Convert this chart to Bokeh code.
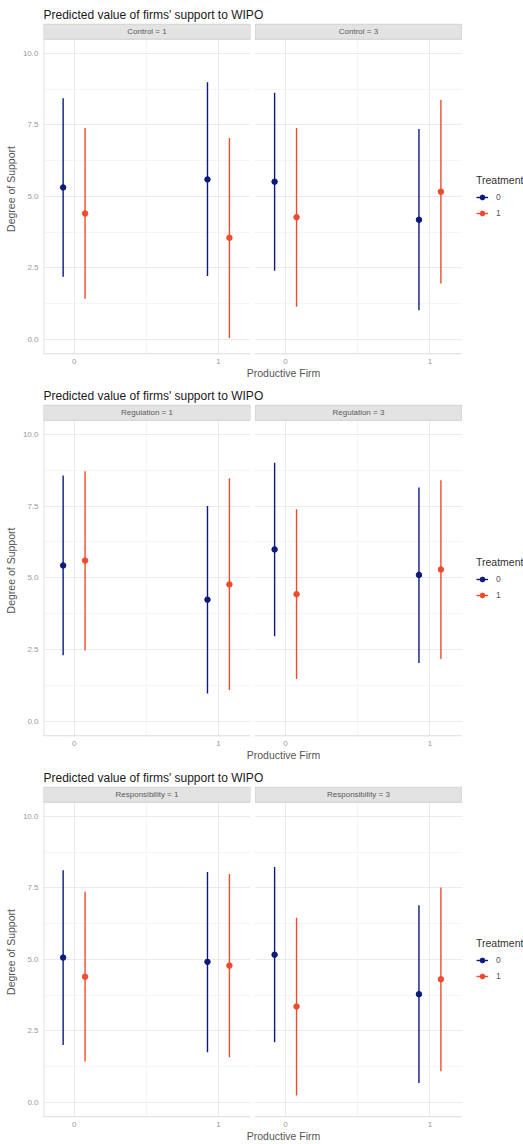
from bokeh.plotting import figure
from bokeh.layouts import column
from bokeh.models import (FixedTicker, PrintfTickFormatter, Legend, LegendItem, ColumnDataSource)
from bokeh.embed import file_html
from bokeh.resources import INLINE
from bokeh.core.properties import value

# ---------------- data ----------------
title_text = "Predicted value of firms' support to WIPO"
facet_vars = ["Control", "Regulation", "Responsibility"]
facet_levels = ["1", "3"]
productive = [0, 1]
treatments = ["0", "1"]

# estimates [facet level][productive] for treatment 0 and 1
control_t0 = [[5.31, 5.59], [5.51, 4.18]]
control_t0_lo = [[2.19, 2.21], [2.40, 1.02]]
control_t0_hi = [[8.43, 8.99], [8.62, 7.35]]
control_t1 = [[4.40, 3.55], [4.27, 5.16]]
control_t1_lo = [[1.42, 0.05], [1.14, 1.95]]
control_t1_hi = [[7.39, 7.04], [7.39, 8.37]]

regulation_t0 = [[5.43, 4.24], [5.99, 5.10]]
regulation_t0_lo = [[2.30, 0.97], [2.96, 2.03]]
regulation_t0_hi = [[8.57, 7.50], [9.01, 8.15]]
regulation_t1 = [[5.60, 4.77], [4.43, 5.29]]
regulation_t1_lo = [[2.47, 1.09], [1.47, 2.17]]
regulation_t1_hi = [[8.71, 8.47], [7.39, 8.40]]

responsibility_t0 = [[5.06, 4.91], [5.16, 3.78]]
responsibility_t0_lo = [[2.00, 1.75], [2.10, 0.68]]
responsibility_t0_hi = [[8.11, 8.05], [8.23, 6.89]]
responsibility_t1 = [[4.39, 4.78], [3.35, 4.30]]
responsibility_t1_lo = [[1.43, 1.58], [0.24, 1.09]]
responsibility_t1_hi = [[7.36, 7.98], [6.45, 7.51]]

y_ticks = [0, 2.5, 5, 7.5, 10]
y_minor = [1.25, 3.75, 6.25, 8.75]

all_data = {
    "Control": [(control_t0, control_t0_lo, control_t0_hi), (control_t1, control_t1_lo, control_t1_hi)],
    "Regulation": [(regulation_t0, regulation_t0_lo, regulation_t0_hi), (regulation_t1, regulation_t1_lo, regulation_t1_hi)],
    "Responsibility": [(responsibility_t0, responsibility_t0_lo, responsibility_t0_hi), (responsibility_t1, responsibility_t1_lo, responsibility_t1_hi)],
}

# ---------------- styling ----------------
FONT = "Liberation Sans"
COLORS = ["#0B1A7C", "#F04B2C"]
DODGE = 0.076
X0, X1 = -0.212, 1.222       # panel x extent
OFFSET = 1.465                # panel 2 offset
PX_PER_UNIT = 207 / (X1 - X0)
LEFT = 43
FRAME_W = 523 - LEFT
XEND = X0 + FRAME_W / PX_PER_UNIT
Y0, YP, YT = -0.51, 10.49, 11.04   # bottom, panel top, strip top


def make_chart(var, height):
    p = figure(width=523, height=height, output_backend="svg", toolbar_location=None,
               x_range=(X0, XEND), y_range=(Y0 - 0.02, YT),
               min_border_left=LEFT, min_border_right=0, min_border_top=23,
               min_border_bottom=25, title=title_text)
    p.outline_line_color = None
    p.background_fill_color = "white"
    p.title.text_font = FONT
    p.title.text_font_size = "12px"
    p.title.text_font_style = "normal"
    p.title.text_color = "#1a1a1a"
    p.title.offset = 0
    p.title.standoff = 4

    # grids
    p.ygrid.ticker = FixedTicker(ticks=y_ticks, minor_ticks=y_minor)
    p.ygrid.grid_line_color = "#EBEBEB"
    p.ygrid.grid_line_width = 1.1
    p.ygrid.minor_grid_line_color = "#F3F3F3"
    p.ygrid.minor_grid_line_width = 0.8
    xt = [0, 1, OFFSET, 1 + OFFSET]
    p.xgrid.ticker = FixedTicker(ticks=xt, minor_ticks=[0.5, 0.5 + OFFSET])
    p.xgrid.grid_line_color = "#EBEBEB"
    p.xgrid.grid_line_width = 1.1
    p.xgrid.minor_grid_line_color = "#F3F3F3"
    p.xgrid.minor_grid_line_width = 0.8

    # axes
    p.yaxis.ticker = FixedTicker(ticks=y_ticks)
    p.yaxis.formatter = PrintfTickFormatter(format="%.1f")
    p.xaxis.ticker = FixedTicker(ticks=xt)
    p.xaxis.major_label_overrides = {OFFSET: "0", 1 + OFFSET: "1"}
    for ax in (p.xaxis, p.yaxis):
        ax.axis_line_color = None
        ax.major_tick_line_color = None
        ax.minor_tick_line_color = None
        ax.major_tick_out = 0
        ax.major_tick_in = 0
        ax.minor_tick_out = 0
        ax.minor_tick_in = 0
        ax.major_label_text_font = FONT
        ax.major_label_text_font_size = "8px"
        ax.major_label_text_color = "#9a9a9a"
        ax.axis_label_text_font = FONT
        ax.axis_label_text_font_size = "10.5px"
        ax.axis_label_text_font_style = "normal"
        ax.axis_label_text_color = "#555555"
    p.yaxis.major_label_standoff = 5
    p.xaxis.major_label_standoff = 4
    p.yaxis.axis_label = "Degree of Support"
    p.xaxis.axis_label = "Productive Firm"
    p.yaxis.axis_label_standoff = 3
    p.xaxis.axis_label_standoff = 0
    p.xaxis.axis_label_align = "center"

    # strips, gap, and blank legend area
    p.quad(left=[X0, X0 + OFFSET], right=[X1, X1 + OFFSET], bottom=[YP, YP], top=[YT - 0.02, YT - 0.02],
           fill_color="#E3E3E3", line_color="#CFCFCF", line_width=1)
    p.quad(left=[X1, X1 + OFFSET], right=[X0 + OFFSET, XEND + 0.1], bottom=[Y0 - 0.05, Y0 - 0.05],
           top=[YT + 0.05, YT + 0.05], fill_color="white", line_color=None)
    p.text(x=[(X0 + X1) / 2, (X0 + X1) / 2 + OFFSET], y=[(YP + YT) / 2, (YP + YT) / 2],
           text=[f"{var} = {lvl}" for lvl in facet_levels], text_align="center", text_baseline="middle",
           text_font=value(FONT), text_font_size="8px", text_color="#5a5a5a")
    # axis lines
    p.segment(x0=[X0 + 0.002], y0=[Y0], x1=[X0 + 0.002], y1=[YP], line_color="#D2D2D2", line_width=1)
    p.segment(x0=[X0, X0 + OFFSET], y0=[Y0, Y0], x1=[X1, X1 + OFFSET], y1=[Y0, Y0],
              line_color="#D2D2D2", line_width=1)

    items = []
    for ti, (est, lo, hi) in enumerate(all_data[var]):
        xs, ys, los, his = [], [], [], []
        for fi in range(2):
            for pi, pr in enumerate(productive):
                xs.append(pr + (ti * 2 - 1) * DODGE + fi * OFFSET)
                ys.append(est[fi][pi])
                los.append(lo[fi][pi])
                his.append(hi[fi][pi])
        src = ColumnDataSource(dict(x=xs, y=ys, lo=los, hi=his))
        seg = p.segment(x0="x", y0="lo", x1="x", y1="hi", source=src, line_color=COLORS[ti], line_width=1.4)
        pts = p.scatter(x="x", y="y", source=src, size=5.5, fill_color=COLORS[ti], line_color=COLORS[ti])
        items.append(LegendItem(label=treatments[ti], renderers=[seg, pts]))

    legend = Legend(items=items, location=(433, 134), title="Treatment",
                    title_text_font=FONT, title_text_font_size="10.5px", title_text_color="#333333",
                    title_text_font_style="normal", title_standoff=4,
                    label_text_font=FONT, label_text_font_size="8.5px", label_text_color="#555555",
                    glyph_width=12, glyph_height=14, label_standoff=8, spacing=2,
                    padding=4, margin=0, border_line_color=None, background_fill_alpha=0)
    p.add_layout(legend)
    return p


charts = [make_chart("Control", 381), make_chart("Regulation", 382), make_chart("Responsibility", 381)]
layout = column(*charts, spacing=0)
open("out.html", "w").write(file_html(layout, INLINE))
